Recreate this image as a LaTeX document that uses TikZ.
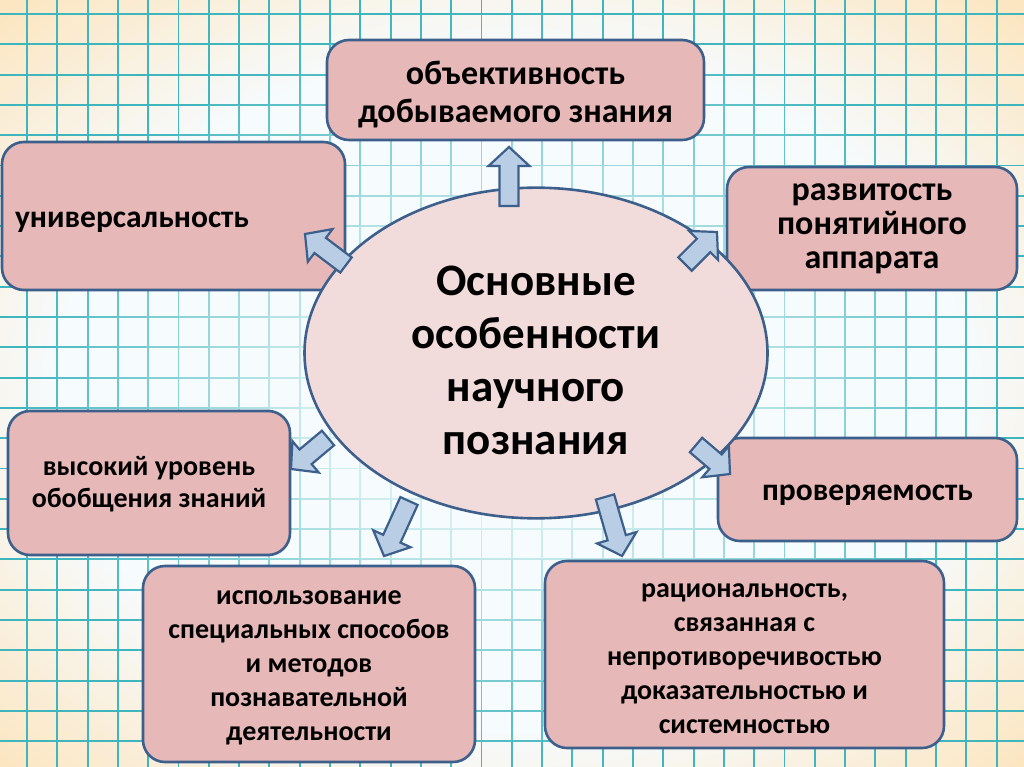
\documentclass[tikz,border=0pt]{standalone}
\usepackage{fontspec}
\setmainfont{Carlito}
\usetikzlibrary{calc,shapes.geometric}
\definecolor{boxfill}{HTML}{E6B8B7}
\definecolor{edgec}{HTML}{3C5F8C}
\definecolor{ellfill}{HTML}{F2DCDB}
\definecolor{arrfill}{HTML}{B9CDE5}
\definecolor{gridc}{HTML}{3FB5BD}
\definecolor{cream}{HTML}{FCE6C2}
\definecolor{paleblue}{HTML}{F6FBFD}
% first-line height control
\newcommand\fl[1]{\rule{0pt}{#1pt}}
\newcommand\blockarr[2]{%
  \coordinate (hb) at ($(#2)!19pt!(#1)$);
  \draw[arrstyle] ($(#1)!9.5pt!90:(#2)$) -- ($(hb)!9.5pt!-90:(#1)$) -- ($(hb)!20.5pt!-90:(#1)$) -- (#2)
    -- ($(hb)!20.5pt!90:(#1)$) -- ($(hb)!9.5pt!90:(#1)$) -- ($(#1)!9.5pt!-90:(#2)$) -- cycle;}
\begin{document}
\begin{tikzpicture}[x=1pt,y=-1pt,
  box/.style={draw=edgec, line width=2.6pt, fill=boxfill, rounded corners=22pt, align=center, inner sep=0pt},
  arrstyle/.style={draw=edgec, line width=2.2pt, fill=arrfill, line join=miter},
  gridline/.style={line width=1.9pt},
  fa/.style={font=\bfseries\fontsize{34}{38}\selectfont},
  fb/.style={font=\bfseries\fontsize{34}{34}\selectfont},
  fc/.style={font=\bfseries\fontsize{31.5}{40}\selectfont},
  fd/.style={font=\bfseries\fontsize{28}{32}\selectfont},
  fe/.style={font=\bfseries\fontsize{28}{34}\selectfont}]
\useasboundingbox (0,0) rectangle (1024,767);
% background: solid concentric fills, cream at the corners to white in the middle
\fill[cream] (0,0) rectangle (1024,767);
\foreach \dd in {1.32,1.30,...,0.80} {
  \pgfmathsetmacro\mycol{max(0,min(100,(\dd-0.82)/0.46*100))}
  \fill[cream!\mycol!paleblue] (512,390) ellipse [x radius={560*\dd}, y radius={420*\dd}];
}
% grid, strong at the edges and pale in the middle
\foreach \i in {0,...,24} {
  \foreach \j in {0,...,33} {
    \pgfmathsetmacro\mycol{max(22,min(100,22+130*(sqrt(((27+30.3*\j-15-512)/520)^2+((14+30.3*\i-390)/400)^2)-0.35)))}
    \draw[gridline, gridc!\mycol!white] ({27+30.3*(\j-1)},{14+30.3*\i}) -- ({27+30.3*\j},{14+30.3*\i});
  }
}
\foreach \k in {0,...,32} {
  \foreach \j in {0,...,25} {
    \pgfmathsetmacro\mycol{max(22,min(100,22+130*(sqrt(((27+30.3*\k-512)/520)^2+((14+30.3*\j-15-390)/400)^2)-0.35)))}
    \draw[gridline, gridc!\mycol!white] ({27+30.3*\k},{14+30.3*(\j-1)}) -- ({27+30.3*\k},{14+30.3*\j});
  }
}
% boxes
\node[box, fa, minimum width=377pt, minimum height=100pt] (obj) at (515.5,90)
  {\fl{39.4}объективность\\добываемого знания\strut};
\node[box, fc, minimum width=343pt, minimum height=148pt, text width=317pt, inner xsep=13pt, align=left] (univ) at (173.5,216)
  {\fl{36}универсальность\strut};
\node[box, fb, minimum width=290pt, minimum height=123pt] (razv) at (872,228.5)
  {\fl{21.2}развитость\\понятийного\\аппарата\strut};
\node[box, fd, minimum width=282pt, minimum height=144pt] (vys) at (149,483)
  {\fl{25.6}высокий уровень\\обобщения знаний\strut};
\node[box, fc, minimum width=299pt, minimum height=103pt] (prov) at (867.5,489.5)
  {\fl{33}проверяемость\strut};
\node[box, fe, minimum width=332pt, minimum height=196pt] (isp) at (309,664)
  {\fl{26.2}использование\\специальных способов\\и методов\\познавательной\\деятельности\strut};
\node[box, fe, minimum width=399pt, minimum height=187pt] (rac) at (744.5,654.5)
  {\fl{31.2}рациональность,\\связанная с\\непротиворечивостью\\доказательностью и\\системностью\strut};
% central ellipse
\node[ellipse, draw=edgec, line width=2.6pt, fill=ellfill, minimum width=463pt, minimum height=290pt, align=center, inner sep=0pt,
  font=\bfseries\fontsize{45}{53}\selectfont] (c) at (536,353) {\fl{58.9}Основные\\особенности\\научного\\познания\strut};
% arrows
\coordinate (a1s) at (509,206); \coordinate (a1e) at (509,147);
\coordinate (a2s) at (346,265); \coordinate (a2e) at (305,234);
\coordinate (a3s) at (685,264); \coordinate (a3e) at (717,232);
\coordinate (a4s) at (328,438); \coordinate (a4e) at (291,469);
\coordinate (a5s) at (409,501); \coordinate (a5e) at (384,556);
\coordinate (a6s) at (605,497); \coordinate (a6e) at (622,556);
\coordinate (a7s) at (696,445); \coordinate (a7e) at (730,474);
\blockarr{a1s}{a1e}
\blockarr{a2s}{a2e}
\blockarr{a3s}{a3e}
\blockarr{a4s}{a4e}
\blockarr{a5s}{a5e}
\blockarr{a6s}{a6e}
\blockarr{a7s}{a7e}
\end{tikzpicture}
\end{document}
